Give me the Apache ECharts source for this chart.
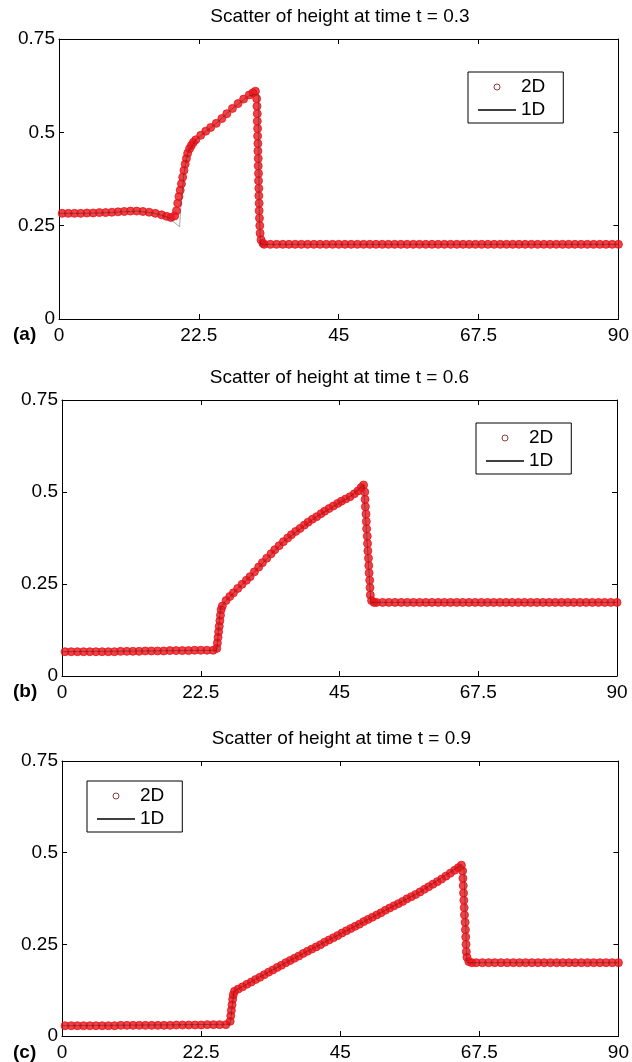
<!DOCTYPE html>
<html>
<head>
<meta charset="utf-8">
<script src="https://cdn.jsdelivr.net/npm/echarts@6/dist/echarts.min.js"></script>
<style>
html, body { margin: 0; padding: 0; background: #fff; }
#main { width: 632px; height: 1062px; }
</style>
</head>
<body>
<div id="main"></div>
<script>
// axis ranges and ticks (same for all three panels)
var xMin = 0, xMax = 90, xStep = 22.5;
var yMin = 0, yMax = 0.75, yStep = 0.25;

var titles = ['Scatter of height at time t = 0.3', 'Scatter of height at time t = 0.6', 'Scatter of height at time t = 0.9'];
var panelLabels = ['(a)', '(b)', '(c)'];
var seriesNames = ['2D', '1D'];

// (a) t = 0.3
var a2D = [
    [0.5,0.283],[1.5,0.283],[2.5,0.283],[3.5,0.283],[4.5,0.284],[5.5,0.284],[6.5,0.285],[7.5,0.285],
    [8.5,0.286],[9.5,0.287],[10.5,0.288],[11.5,0.289],[12.5,0.289],[13.5,0.288],[14.5,0.286],[15.5,0.283],
    [16.5,0.279],[17.3,0.275],[18.0,0.272],[18.6,0.276],[18.9,0.29],[19.1,0.31],[19.3,0.328],[19.5,0.345],
    [19.7,0.362],[19.9,0.38],[20.1,0.398],[20.3,0.415],[20.5,0.43],[20.7,0.444],[21.0,0.456],[21.3,0.465],
    [21.6,0.473],[22.0,0.48],[22.8,0.492],[23.6,0.503],[24.4,0.513],[25.3,0.524],[26.2,0.537],[27.0,0.55],
    [27.9,0.564],[28.8,0.577],[29.7,0.589],[30.6,0.6],[31.2,0.606],[31.6,0.61],
    [31.8,0.59],[31.85,0.57],[31.9,0.55],[31.9,0.53],[31.95,0.51],[31.95,0.49],[32.0,0.47],[32.0,0.45],
    [32.05,0.43],[32.05,0.41],[32.1,0.39],[32.1,0.37],[32.15,0.35],[32.15,0.33],[32.2,0.31],[32.2,0.29],
    [32.25,0.27],[32.3,0.25],[32.35,0.23],[32.5,0.212],[32.8,0.203],
    [33,0.2],[34,0.2],[35,0.2],[36,0.2],[37,0.2],[38,0.2],[39,0.2],[40,0.2],[41,0.2],[42,0.2],
    [43,0.2],[44,0.2],[45,0.2],[46,0.2],[47,0.2],[48,0.2],[49,0.2],[50,0.2],[51,0.2],[52,0.2],
    [53,0.2],[54,0.2],[55,0.2],[56,0.2],[57,0.2],[58,0.2],[59,0.2],[60,0.2],[61,0.2],[62,0.2],
    [63,0.2],[64,0.2],[65,0.2],[66,0.2],[67,0.2],[68,0.2],[69,0.2],[70,0.2],[71,0.2],[72,0.2],
    [73,0.2],[74,0.2],[75,0.2],[76,0.2],[77,0.2],[78,0.2],[79,0.2],[80,0.2],[81,0.2],[82,0.2],
    [83,0.2],[84,0.2],[85,0.2],[86,0.2],[87,0.2],[88,0.2],[89,0.2],[90,0.2]
];
var a1D = [
    [0,0.283],[4,0.283],[8,0.285],[12.5,0.289],[15.5,0.283],[17.6,0.272],[19.4,0.247],[19.6,0.3],
    [20.1,0.39],[20.7,0.444],[22.0,0.48],[25.3,0.524],[27.9,0.564],[30.6,0.598],[32.1,0.603],
    [32.2,0.3],[32.4,0.2],[90,0.2]
];

// (b) t = 0.6
var b2D = [
    [0.5,0.066],[1.5,0.066],[2.5,0.066],[3.5,0.066],[4.5,0.066],[5.5,0.066],[6.5,0.066],[7.5,0.066],
    [8.5,0.066],[9.5,0.067],[10.5,0.067],[11.5,0.067],[12.5,0.067],[13.5,0.068],[14.5,0.068],[15.5,0.068],
    [16.5,0.068],[17.5,0.069],[18.5,0.069],[19.5,0.069],[20.5,0.069],[21.5,0.07],[22.5,0.07],[23.5,0.07],
    [24.5,0.07],
    [25.1,0.075],[25.2,0.09],[25.3,0.105],[25.4,0.12],[25.5,0.135],[25.6,0.15],[25.7,0.165],[25.8,0.18],
    [26.0,0.19],[26.6,0.205],[27.2,0.216],[27.8,0.226],[28.5,0.238],[29.2,0.249],[29.9,0.26],[30.5,0.27],
    [31.2,0.283],[31.9,0.296],[32.5,0.308],[33.2,0.32],[33.9,0.332],[34.5,0.343],[35.2,0.354],[35.9,0.365],
    [36.6,0.375],[37.2,0.384],[37.9,0.393],[38.6,0.401],[39.3,0.41],[39.9,0.418],[40.6,0.426],[41.3,0.433],
    [42.0,0.441],[42.6,0.448],[43.3,0.455],[44.0,0.462],[44.7,0.469],[45.3,0.475],[46.0,0.481],[46.7,0.487],
    [47.4,0.495],[48.0,0.503],[48.5,0.512],[48.9,0.519],
    [49.1,0.5],[49.15,0.48],[49.2,0.46],[49.3,0.44],[49.35,0.42],[49.4,0.4],[49.5,0.38],[49.55,0.36],
    [49.6,0.34],[49.7,0.32],[49.75,0.3],[49.8,0.28],[49.9,0.26],[49.95,0.24],[50.0,0.22],[50.2,0.205],
    [50.6,0.2],
    [51,0.2],[52,0.2],[53,0.2],[54,0.2],[55,0.2],[56,0.2],[57,0.2],[58,0.2],[59,0.2],[60,0.2],
    [61,0.2],[62,0.2],[63,0.2],[64,0.2],[65,0.2],[66,0.2],[67,0.2],[68,0.2],[69,0.2],[70,0.2],
    [71,0.2],[72,0.2],[73,0.2],[74,0.2],[75,0.2],[76,0.2],[77,0.2],[78,0.2],[79,0.2],[80,0.2],
    [81,0.2],[82,0.2],[83,0.2],[84,0.2],[85,0.2],[86,0.2],[87,0.2],[88,0.2],[89,0.2],[90,0.2]
];
var b1D = [
    [0,0.066],[25.1,0.07],[25.7,0.185],[26.6,0.205],[30.5,0.27],[35.9,0.365],[41.3,0.433],
    [46.7,0.487],[48.9,0.519],[49.1,0.515],[50.1,0.2],[90,0.2]
];

// (c) t = 0.9
var c2D = [
    [0.5,0.028],[1.5,0.028],[2.5,0.028],[3.5,0.028],[4.5,0.028],[5.5,0.028],[6.5,0.028],[7.5,0.028],
    [8.5,0.028],[9.5,0.029],[10.5,0.029],[11.5,0.029],[12.5,0.029],[13.5,0.029],[14.5,0.029],[15.5,0.029],
    [16.5,0.029],[17.5,0.029],[18.5,0.03],[19.5,0.03],[20.5,0.03],[21.5,0.03],[22.5,0.03],[23.5,0.031],
    [24.5,0.031],[25.5,0.031],[26.5,0.031],
    [27.2,0.04],[27.3,0.055],[27.4,0.07],[27.5,0.085],[27.6,0.1],[27.7,0.112],[27.9,0.122],
    [28.5,0.128],[29.2,0.134],[29.9,0.141],[30.6,0.147],[31.3,0.154],[32.0,0.16],[32.7,0.167],[33.4,0.174],
    [34.1,0.18],[34.8,0.187],[35.5,0.193],[36.2,0.2],[36.9,0.206],[37.6,0.212],[38.3,0.218],[39.0,0.225],
    [39.7,0.231],[40.4,0.237],[41.1,0.243],[41.8,0.249],[42.5,0.256],[43.2,0.262],[43.9,0.268],[44.6,0.274],
    [45.3,0.281],[46.0,0.287],[46.7,0.293],[47.4,0.299],[48.1,0.305],[48.8,0.312],[49.5,0.318],[50.2,0.324],
    [50.9,0.33],[51.6,0.336],[52.3,0.343],[53.0,0.349],[53.7,0.355],[54.4,0.361],[55.1,0.367],[55.8,0.374],
    [56.5,0.38],[57.2,0.386],[57.9,0.393],[58.6,0.4],[59.3,0.407],[60.0,0.414],[60.7,0.421],[61.4,0.428],
    [62.1,0.436],[62.8,0.444],[63.5,0.452],[64.1,0.459],[64.6,0.466],
    [64.8,0.45],[64.85,0.43],[64.9,0.41],[64.95,0.39],[65.0,0.37],[65.05,0.35],[65.1,0.33],[65.2,0.31],
    [65.25,0.29],[65.3,0.27],[65.35,0.25],[65.4,0.23],[65.5,0.215],[65.8,0.203],[66.3,0.2],
    [67,0.2],[68,0.2],[69,0.2],[70,0.2],[71,0.2],[72,0.2],[73,0.2],[74,0.2],[75,0.2],[76,0.2],
    [77,0.2],[78,0.2],[79,0.2],[80,0.2],[81,0.2],[82,0.2],[83,0.2],[84,0.2],[85,0.2],[86,0.2],
    [87,0.2],[88,0.2],[89,0.2],[90,0.2]
];
var c1D = [
    [0,0.028],[27.2,0.032],[27.8,0.122],[36.2,0.2],[46.9,0.295],[57.6,0.39],[64.6,0.467],
    [65.0,0.46],[65.5,0.2],[90,0.2]
];

var data2D = [a2D, b2D, c2D];
var data1D = [a1D, b1D, c1D];

var font = '"Liberation Sans", Arial, Helvetica, sans-serif';

var grids = [
    {left: 59, top: 39, width: 562, height: 280},
    {left: 62, top: 400, width: 555, height: 276},
    {left: 62, top: 761, width: 559, height: 276}
];
var legendPos = [
    {left: 468, top: 72},
    {left: 476, top: 423},
    {left: 87, top: 781}
];
var titleTop = [6, 367, 728];
var labelTop = [324, 681, 1042];

var xAxis = [], yAxis = [], series = [], title = [], legend = [];

function axisBase(show) {
    return {
        axisLine: {show: true, onZero: false, lineStyle: {color: '#000', width: 1}},
        axisTick: {show: true, inside: true, length: 5, lineStyle: {color: '#000', width: 1}},
        axisLabel: {show: show, fontSize: 19, color: '#000', fontFamily: font, showMinLabel: true, showMaxLabel: true},
        splitLine: {show: false}
    };
}

for (var i = 0; i < 3; i++) {
    var g = grids[i];
    ['bottom', 'top'].forEach(function (pos) {
        var ax = axisBase(pos === 'bottom');
        ax.gridIndex = i; ax.type = 'value'; ax.position = pos;
        ax.min = xMin; ax.max = xMax; ax.interval = xStep;
        ax.axisLabel.margin = 7;
        xAxis.push(ax);
    });
    ['left', 'right'].forEach(function (pos) {
        var ax = axisBase(pos === 'left');
        ax.gridIndex = i; ax.type = 'value'; ax.position = pos;
        ax.min = yMin; ax.max = yMax; ax.interval = yStep;
        ax.axisLabel.margin = 4;
        yAxis.push(ax);
    });

    series.push({
        type: 'scatter',
        name: seriesNames[0],
        xAxisIndex: 2 * i,
        yAxisIndex: 2 * i,
        data: data2D[i],
        symbol: 'circle',
        symbolSize: 8,
        itemStyle: {color: '#e8141a', borderColor: '#e8141a', borderWidth: 1},
        z: 2,
        silent: true
    });
    series.push({
        type: 'line',
        name: seriesNames[1],
        xAxisIndex: 2 * i,
        yAxisIndex: 2 * i,
        data: data1D[i],
        symbol: 'none',
        showSymbol: false,
        itemStyle: {color: '#000'},
        lineStyle: {color: '#222', width: 1, opacity: 0.4},
        z: 3,
        silent: true
    });

    title.push({
        text: titles[i],
        left: g.left + g.width / 2,
        top: titleTop[i],
        textAlign: 'center',
        padding: 0,
        textStyle: {fontSize: 19, fontWeight: 'normal', color: '#000', fontFamily: font, lineHeight: 22}
    });
    title.push({
        text: panelLabels[i],
        left: 13,
        top: labelTop[i],
        padding: 0,
        textStyle: {fontSize: 19, fontWeight: 'bold', color: '#000', fontFamily: font, lineHeight: 22}
    });

    legend.push({
        orient: 'vertical',
        left: legendPos[i].left,
        top: legendPos[i].top,
        itemGap: 3,
        itemWidth: 38,
        itemHeight: 6,
        padding: [5, 18, 3, 10],
        borderColor: '#000',
        borderWidth: 1,
        backgroundColor: '#fff',
        selectedMode: false,
        textStyle: {fontSize: 19, color: '#000', fontFamily: font, lineHeight: 20},
        data: [
            {name: seriesNames[0], icon: 'circle', itemStyle: {color: '#fff', borderColor: '#8b3c3c', borderWidth: 1, opacity: 1}},
            {name: seriesNames[1], icon: 'path://M0,0L38,0L38,1.3L0,1.3Z', itemStyle: {color: '#000', borderWidth: 0, opacity: 1}}
        ]
    });
}

var myChart = echarts.init(document.getElementById('main'));
myChart.setOption({
    animation: false,
    backgroundColor: '#fff',
    title: title,
    legend: legend,
    grid: grids,
    xAxis: xAxis,
    yAxis: yAxis,
    series: series
});
</script>
</body>
</html>
